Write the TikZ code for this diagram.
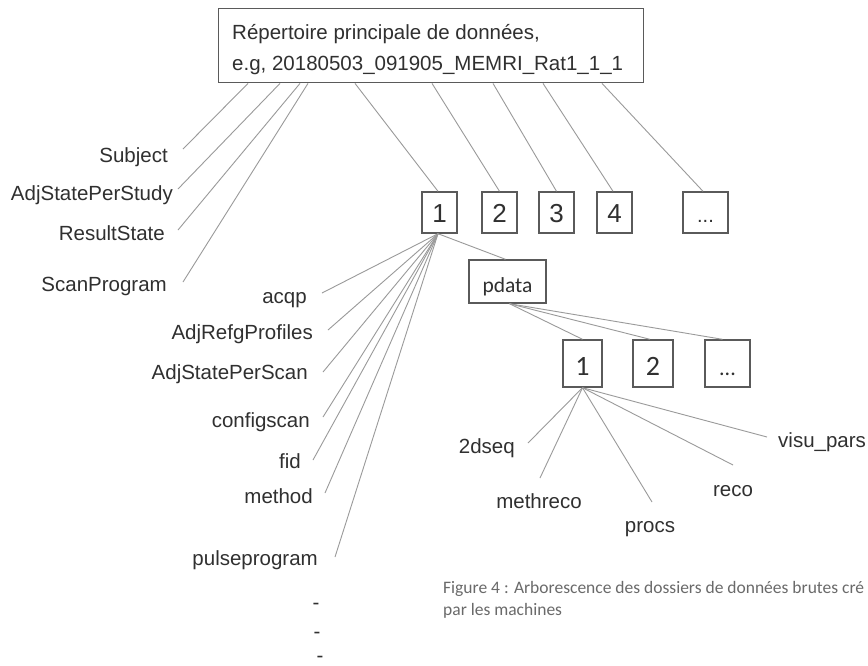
\documentclass[tikz,border=0pt]{standalone}
\usepackage{fontspec}
\setmainfont{Liberation Sans}
\newfontfamily\calib{Carlito}
\definecolor{txt}{HTML}{303030}
\definecolor{ln}{HTML}{9A9A9A}
\definecolor{bx}{HTML}{5A5A5A}
\definecolor{capc}{HTML}{6A6A6A}
\begin{document}
\begin{tikzpicture}[x=1pt,y=-1pt,
  lbl/.style={inner sep=0pt, text=txt, font=\fontsize{20.5}{24}\selectfont},
  conn/.style={draw=ln, line width=0.9pt},
  box/.style={draw=bx, line width=1.4pt, inner sep=0pt, text=txt},
  boxa/.style={box, minimum width=35pt, minimum height=41pt, text height=19pt, text depth=0pt, font=\fontsize{26}{30}\selectfont},
  boxadots/.style={boxa, minimum width=45pt, font=\fontsize{20}{24}\selectfont},
  boxb/.style={box, minimum width=39pt, minimum height=47pt, text height=23pt, text depth=0pt, font=\calib\fontsize{28}{32}\selectfont},
  capst/.style={inner sep=0pt, text=capc, font=\calib\fontsize{17.5}{22}\selectfont}]
\path[use as bounding box, fill=white] (0,0) rectangle (868,665);

% main directory box
\node[box, anchor=north west, minimum width=425pt, minimum height=74pt] (main) at (218,8) {};
\node[lbl, anchor=base west] (t1) at (232,39) {Répertoire principale de données,};
\node[lbl, anchor=base west] (t2) at (232,70) {e.g, 20180503\_091905\_MEMRI\_Rat1\_1\_1};

% first-level labels
\node[lbl, anchor=base east] (subject) at (168,162) {Subject};
\node[lbl, anchor=base east] (adjstudy) at (173,200) {AdjStatePerStudy};
\node[lbl, anchor=base east] (result) at (165,240) {ResultState};
\node[lbl, anchor=base east] (scanprog) at (167,291) {ScanProgram};

% first-level boxes
\node[boxa] (b1) at (439.5,212.5) {1};
\node[boxa] (b2) at (499.5,212.5) {2};
\node[boxa] (b3) at (556.5,212.5) {3};
\node[boxa] (b4) at (614.5,212.5) {4};
\node[boxadots] (b5) at (705.5,212.5) {...};

% scan files
\node[lbl, anchor=base east] (acqp) at (307,303) {acqp};
\node[lbl, anchor=base east] (adjrefg) at (313,339) {AdjRefgProfiles};
\node[lbl, anchor=base east] (adjscan) at (308,379) {AdjStatePerScan};
\node[lbl, anchor=base east] (configscan) at (310,427) {configscan};
\node[lbl, anchor=base east] (fid) at (301,468) {fid};
\node[lbl, anchor=base east] (method) at (313,503) {method};
\node[lbl, anchor=base east] (pulse) at (318,565) {pulseprogram};
\node[lbl, anchor=base] (d1) at (316,609) {-};
\node[lbl, anchor=base] (d2) at (317,638) {-};
\node[lbl, anchor=base] (d3) at (320,662) {-};

% pdata
\node[box, minimum width=77pt, minimum height=43pt, text height=21pt, text depth=0pt, font=\calib\fontsize{21.5}{26}\selectfont] (pdata) at (507.5,281.5) {pdata};
\node[boxb] (s1) at (582.5,363.5) {1};
\node[boxb, minimum width=40pt] (s2) at (653,363.5) {2};
\node[boxb, minimum width=45pt, font=\calib\fontsize{22}{26}\selectfont] (s3) at (727.5,363.5) {...};

% reco files
\node[lbl, anchor=base east] (dseq) at (515,453) {2dseq};
\node[lbl, anchor=base] (methreco) at (539,508) {methreco};
\node[lbl, anchor=base] (procs) at (650,532) {procs};
\node[lbl, anchor=base] (reco) at (733,496) {reco};
\node[lbl, anchor=base west] (visu) at (778,447) {visu\_pars};

% caption
\node[capst, anchor=base west] (cap1) at (443,593) {Figure 4 : Arborescence des dossiers de données brutes cré};
\node[capst, anchor=base west] (cap2) at (443,615) {par les machines};

% connectors from main box
\draw[conn] ([xshift=30pt]main.south west) -- ([xshift=15pt,yshift=13pt]subject.base east);
\draw[conn] ([xshift=62pt]main.south west) -- ([xshift=5pt,yshift=11pt]adjstudy.base east);
\draw[conn] ([xshift=82pt]main.south west) -- ([xshift=13pt,yshift=10pt]result.base east);
\draw[conn] ([xshift=90pt]main.south west) -- ([xshift=16pt,yshift=9pt]scanprog.base east);
\draw[conn] ([xshift=137pt]main.south west) -- ([xshift=-1.5pt]b1.north);
\draw[conn] ([xshift=214pt]main.south west) -- (b2.north);
\draw[conn] ([xshift=275pt]main.south west) -- (b3.north);
\draw[conn] ([xshift=325pt]main.south west) -- ([xshift=-1.5pt]b4.north);
\draw[conn] ([xshift=384pt]main.south west) -- ([xshift=-2.5pt]b5.north);

% connectors from scan 1
\draw[conn] ([xshift=-1.5pt]b1.south) -- ([xshift=15pt,yshift=10pt]acqp.base east);
\draw[conn] ([xshift=-1.5pt]b1.south) -- ([xshift=15pt,yshift=9pt]adjrefg.base east);
\draw[conn] ([xshift=-1.5pt]b1.south) -- ([xshift=15pt,yshift=7pt]adjscan.base east);
\draw[conn] ([xshift=-1.5pt]b1.south) -- ([xshift=13pt,yshift=10pt]configscan.base east);
\draw[conn] ([xshift=-1.5pt]b1.south) -- ([xshift=12pt,yshift=8pt]fid.base east);
\draw[conn] ([xshift=-1.5pt]b1.south) -- ([xshift=12pt,yshift=10pt]method.base east);
\draw[conn] ([xshift=-1.5pt]b1.south) -- ([xshift=17pt,yshift=8pt]pulse.base east);
\draw[conn] ([xshift=-1.5pt]b1.south) -- ([xshift=-2pt]pdata.north);

% connectors from pdata
\draw[conn] ([xshift=2pt]pdata.south) -- (s1.north);
\draw[conn] ([xshift=2pt]pdata.south) -- ([xshift=-3pt]s2.north);
\draw[conn] ([xshift=2pt]pdata.south) -- ([xshift=-5pt]s3.north);

% connectors from pdata/1
\draw[conn] (s1.south) -- ([xshift=13pt,yshift=10pt]dseq.base east);
\draw[conn] (s1.south) -- ([xshift=1pt,yshift=30pt]methreco.base);
\draw[conn] (s1.south) -- ([xshift=2pt,yshift=30pt]procs.base);
\draw[conn] (s1.south) -- ([yshift=31pt]reco.base);
\draw[conn] (s1.south) -- ([xshift=-11pt,yshift=10pt]visu.base west);
\end{tikzpicture}
\end{document}
